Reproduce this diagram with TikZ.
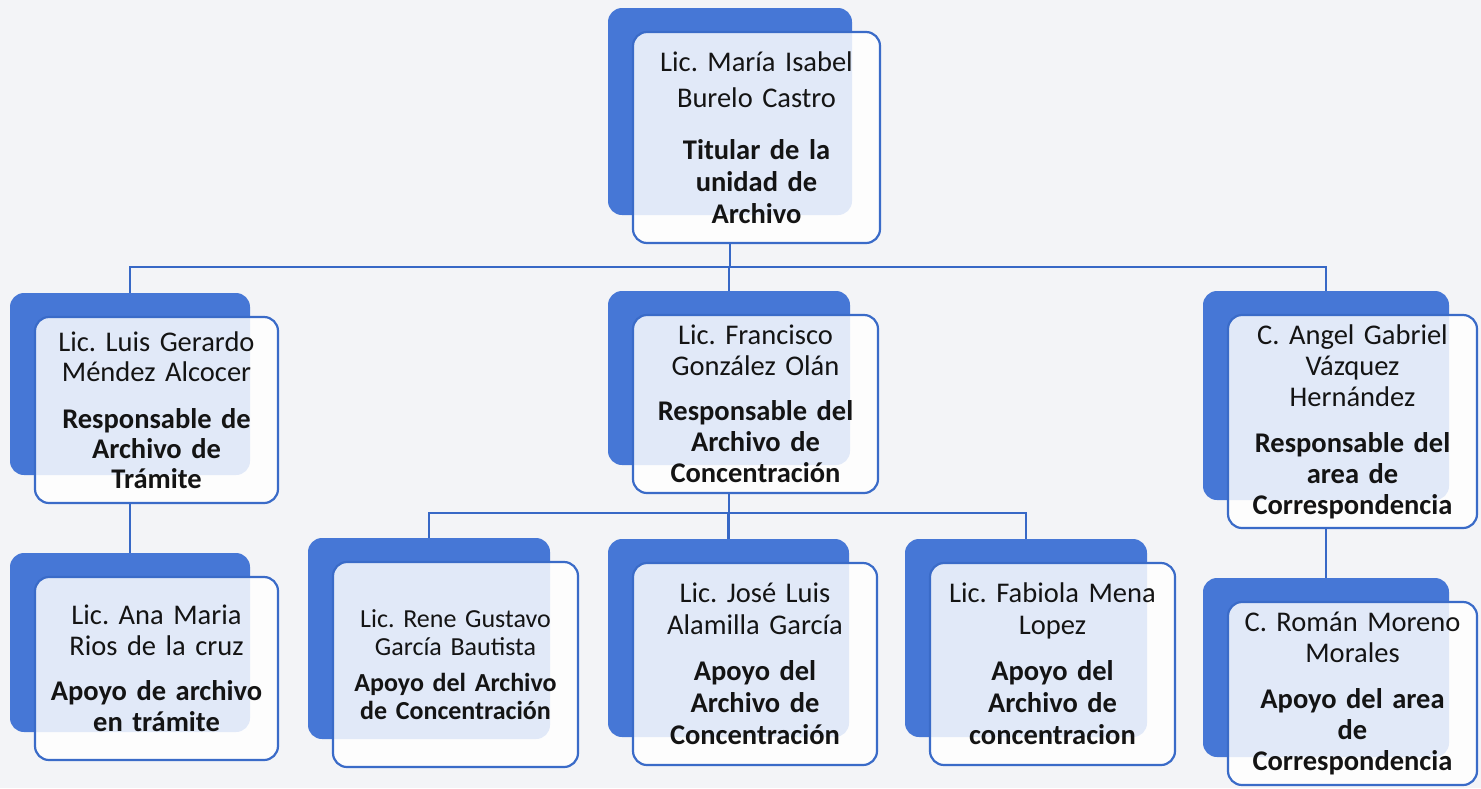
\documentclass[tikz,border=0pt]{standalone}
\usepackage{fontspec}
\setmainfont{Carlito}
\frenchspacing
\definecolor{bgcol}{HTML}{F3F4F7}
\definecolor{backblue}{HTML}{4677D6}
\definecolor{edgeblue}{HTML}{3A6BC8}
\definecolor{lineblue}{HTML}{3768C6}
\definecolor{txt}{HTML}{141414}
\tikzset{
  backbox/.style={draw=none, fill=backblue, rounded corners=14pt, inner sep=0pt},
  frontbox/.style={draw=edgeblue, line width=2.2pt, fill=white, fill opacity=0.84,
    text opacity=1, draw opacity=1, rounded corners=14pt, inner sep=0pt,
    align=center, text=txt},
  conn/.style={draw=lineblue, line width=2.3pt}
}
% #1 name, #2 cx, #3 cy, #4 w, #5 h, #6 font size, #7 baselineskip, #8 text
\newcommand{\orgbox}[8]{%
  \node[backbox, minimum width={(#4-3)*1pt}, minimum height={(#5-4)*1pt}]
    (#1b) at ({#2-26.5},{-(#3-26)}) {};
  \node[frontbox, minimum width={#4*1pt}, minimum height={#5*1pt},
    text width={(#4-12)*1pt}, font=\fontsize{#6}{#7}\selectfont\frenchspacing]
    (#1) at ({#2},{-#3}) {#8};
}
\begin{document}
\begin{tikzpicture}[x=1pt,y=1pt]
\fill[bgcol] (0,0) rectangle (1481,-788);
\useasboundingbox (0,0) rectangle (1481,-788);

\orgbox{top}{756.5}{137.5}{247}{211}{28.5}{32}{Lic. María Isabel\\[4pt]Burelo Castro\\[20pt]\bfseries Titular de la\\unidad de\\Archivo}
\orgbox{luis}{156.5}{410}{243}{186}{28.5}{30}{Lic. Luis Gerardo\\Méndez Alcocer\\[17pt]\bfseries Responsable de\\Archivo de\\Trámite}
\orgbox{fran}{755.5}{404}{245}{178}{28.5}{31}{Lic. Francisco\\González Olán\\[14pt]\bfseries Responsable del\\Archivo de\\Concentración}
\orgbox{angel}{1352.5}{421.5}{249}{213}{28.5}{31}{C. Angel Gabriel\\Vázquez\\Hernández\\[15pt]\bfseries Responsable del\\area de\\Correspondencia}
\orgbox{ana}{156.5}{668.5}{243}{183}{28.5}{30.5}{Lic. Ana Maria\\Rios de la cruz\\[15pt]\bfseries Apoyo de archivo\\en trámite}
\orgbox{rene}{455.5}{664.5}{245}{205}{26}{27.5}{Lic. Rene Gustavo\\García Bautista\\[9pt]\bfseries Apoyo del Archivo\\de Concentración}
\orgbox{jose}{755}{664}{244}{202}{28.5}{32}{Lic. José Luis\\Alamilla García\\[14pt]\bfseries Apoyo del\\Archivo de\\Concentración}
\orgbox{fab}{1052.5}{664}{245}{202}{28.5}{32}{Lic. Fabiola Mena\\Lopez\\[14pt]\bfseries Apoyo del\\Archivo de\\concentracion}
\orgbox{roman}{1352.5}{693.5}{249}{183}{28.5}{31}{C. Román Moreno\\Morales\\[15pt]\bfseries Apoyo del area\\de\\Correspondencia}

\coordinate (bus1) at (730,-267);
\coordinate (bus2) at (729,-513);
\draw[conn] (top.south -| topb.center) -- (bus1);
\draw[conn] (luisb.north) |- (bus1) -| (angelb.north);
\draw[conn] (franb.north) -- (franb.north |- bus1);
\draw[conn] (fran.south -| franb.center) -- (bus2);
\draw[conn] (reneb.north) |- (bus2) -| (fabb.north);
\draw[conn] (joseb.north) -- (joseb.north |- bus2);
\draw[conn] (luis.south -| luisb.center) -- (anab.north);
\draw[conn] (angel.south -| angelb.center) -- (romanb.north);
\end{tikzpicture}
\end{document}
